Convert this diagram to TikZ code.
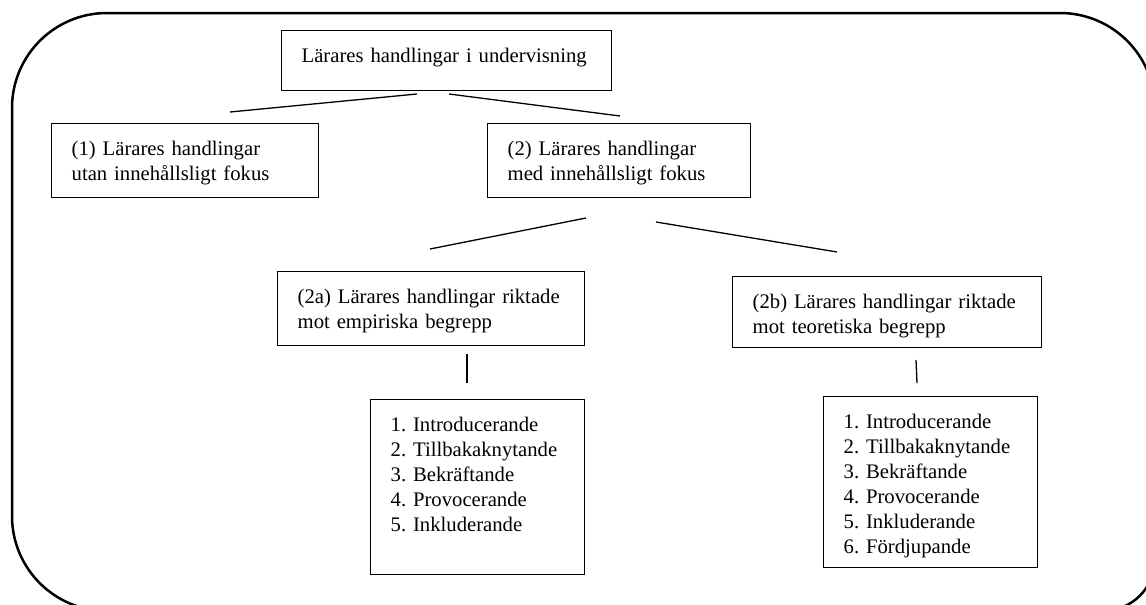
\documentclass[tikz,border=0pt]{standalone}
\usepackage{fontspec}
\setmainfont{Liberation Serif}

\begin{document}
\begin{tikzpicture}[x=0.5pt, y=-0.5pt,
    every node/.style={font=\fontsize{10.35}{12.5}\selectfont\frenchspacing},
    box/.style={draw, line width=0.65pt, anchor=north west, align=left, inner xsep=10pt, inner ysep=8.8pt, text height=7.2pt},
    link/.style={line width=0.65pt}]
    \useasboundingbox (0,0) rectangle (1146,605);
    \clip (0,0) rectangle (1146,605);

    % outer frame
    \draw[line width=1.25pt] (12,108) arc[start angle=180, end angle=90, radius=47.5pt]
        -- (1060,13) arc[start angle=90, end angle=0, radius=47.5pt]
        -- (1155,559) arc[start angle=0, end angle=-90, radius=26pt]
        -- (107,611) arc[start angle=270, end angle=180, radius=47.5pt] -- cycle;

    % boxes
    \node[box, text width=145pt, text depth=5.2pt] (top) at (281,30) {Lärares handlingar i undervisning};
    \node[box, text width=113.5pt, text depth=12.2pt] (utan) at (51,123) {(1) Lärares handlingar\\utan innehållsligt fokus};
    \node[box, text width=111.5pt, text depth=12.2pt] (med) at (487,123) {(2) Lärares handlingar\\med innehållsligt fokus};
    \node[box, text width=133.5pt, text depth=11.95pt] (emp) at (277,271) {(2a) Lärares handlingar riktade\\mot empiriska begrepp};
    \node[box, text width=134.5pt, text depth=10.7pt] (teo) at (732,276) {(2b) Lärares handlingar riktade\\mot teoretiska begrepp};
    \node[box, text width=87pt, text depth=62.7pt] (emplist) at (370,399) {1. Introducerande\\2. Tillbakaknytande\\3. Bekräftande\\4. Provocerande\\5. Inkluderande};
    \node[box, text width=87pt, text depth=60.7pt] (teolist) at (823,396) {1. Introducerande\\2. Tillbakaknytande\\3. Bekräftande\\4. Provocerande\\5. Inkluderande\\6. Fördjupande};

    % line ends
    \coordinate (top-l) at (417,94);
    \coordinate (utan-t) at (230,112);
    \coordinate (top-r) at (449,94);
    \coordinate (med-t) at (620,116);
    \coordinate (med-l) at (586,218);
    \coordinate (emp-t) at (430,249);
    \coordinate (med-r) at (656,222);
    \coordinate (teo-t) at (837,252);
    \coordinate (emp-b) at (467,354);
    \coordinate (emplist-t) at (467,383);
    \coordinate (teo-b) at (916,360);
    \coordinate (teolist-t) at (917,383);

    \draw[link] (top-l) -- (utan-t);
    \draw[link] (top-r) -- (med-t);
    \draw[link] (med-l) -- (emp-t);
    \draw[link] (med-r) -- (teo-t);
    \draw[link] (emp-b) -- (emplist-t);
    \draw[link] (teo-b) -- (teolist-t);
\end{tikzpicture}
\end{document}
